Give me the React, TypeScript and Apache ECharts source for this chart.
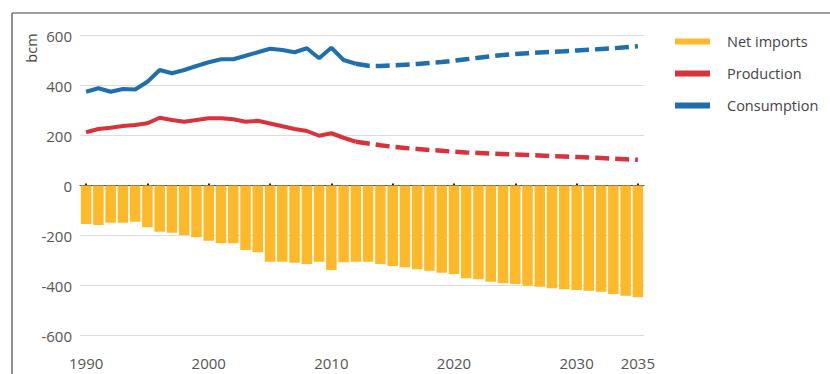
import React, { useEffect, useRef } from "react";
import * as echarts from "echarts";

const years = [
  "1990", "1991", "1992", "1993", "1994", "1995", "1996", "1997", "1998", "1999",
  "2000", "2001", "2002", "2003", "2004", "2005", "2006", "2007", "2008", "2009",
  "2010", "2011", "2012", "2013", "2014", "2015", "2016", "2017", "2018", "2019",
  "2020", "2021", "2022", "2023", "2024", "2025", "2026", "2027", "2028", "2029",
  "2030", "2031", "2032", "2033", "2034", "2035",
];

const labelYears = ["1990", "2000", "2010", "2020", "2030", "2035"];

// 1990-2012 (historical)
const consumptionHist = [
  375, 389, 375, 386, 384, 415, 462, 449, 462, 478, 493, 505, 505, 519, 533, 547,
  542, 533, 549, 509, 551, 502, 487,
];
// 2012-2035 (projection)
const consumptionProj = [
  487, 479, 478, 480, 483, 486, 490, 494, 499, 505, 511, 517, 522, 526, 529, 532,
  535, 537, 540, 543, 546, 549, 553, 557,
];
// 1990-2012
const productionHist = [
  213, 226, 231, 238, 242, 249, 271, 262, 255, 262, 269, 269, 265, 255, 259, 248,
  237, 226, 218, 199, 209, 191, 175,
];
// 2012-2035
const productionProj = [
  175, 168, 161, 155, 150, 146, 142, 139, 135, 132, 130, 128, 126, 124, 122, 120,
  118, 116, 114, 112, 110, 107, 105, 103,
];
// 1990-2035
const netImports = [
  -154, -158, -149, -149, -145, -167, -185, -189, -198, -207, -221, -231, -231, -258,
  -267, -305, -305, -309, -314, -305, -338, -307, -305,
  -305, -314, -322, -327, -335, -341, -349, -354, -371, -375, -385, -391, -394, -401,
  -405, -411, -415, -418, -421, -425, -434, -441, -447,
];

const FONT = "'Open Sans', 'Noto Sans', sans-serif";
const BLUE = "#1f6fae";
const RED = "#d8333b";
const YELLOW = "#fdb92a";

export default function App() {
  const ref = useRef<HTMLDivElement>(null);

  useEffect(() => {
    if (!ref.current) return;
    const chart = echarts.init(ref.current, undefined, { renderer: "svg" });

    const histCount = consumptionHist.length;
    const projStart = years.length - consumptionProj.length;
    const padHist = (arr: number[]) =>
      years.map((_, i) => (i < histCount ? arr[i] : null));
    const padProj = (arr: number[]) =>
      years.map((_, i) => (i >= projStart ? arr[i - projStart] : null));

    chart.setOption({
      animation: false,
      textStyle: { fontFamily: FONT },
      grid: { left: 80, right: 186, top: 35.5, bottom: 38.5, containLabel: false },
      legend: {
        orient: "vertical",
        left: 670,
        top: 29,
        icon: "rect",
        itemWidth: 35,
        itemHeight: 6,
        itemGap: 17,
        data: ["Net imports", "Production", "Consumption"],
        selectedMode: false,
        textStyle: {
          fontFamily: FONT,
          fontSize: 14.5,
          color: "#444",
          lineHeight: 14,
          padding: [0, 0, 0, 12],
        },
      },
      xAxis: [
        {
          type: "category",
          data: years,
          position: "bottom",
          boundaryGap: true,
          axisLine: { show: false, onZero: false },
          axisTick: { show: false },
          splitLine: { show: false },
          axisLabel: {
            interval: (_i: number, v: string) => labelYears.includes(v),
            color: "#555",
            fontSize: 15,
            fontFamily: FONT,
            margin: 20,
          },
        },
        {
          type: "category",
          data: years,
          position: "top",
          boundaryGap: true,
          axisLine: { show: true, onZero: true, lineStyle: { color: "#444", width: 1.2 } },
          axisTick: {
            show: true,
            interval: 4,
            alignWithLabel: true,
            length: 2,
            lineStyle: { color: "#222", width: 2 },
          },
          axisLabel: { show: false },
          splitLine: { show: false },
        },
      ],
      yAxis: {
        type: "value",
        min: -600,
        max: 600,
        interval: 200,
        axisLine: { show: false },
        axisTick: { show: false },
        splitLine: { show: true, lineStyle: { color: "#dcdcdc", width: 1 } },
        axisLabel: { color: "#555", fontSize: 15, fontFamily: FONT, margin: 8 },
      },
      graphic: [
        {
          type: "line",
          shape: { x1: 12, y1: 13, x2: 830, y2: 13 },
          style: { stroke: "#444", lineWidth: 1.2 },
        },
        {
          type: "line",
          shape: { x1: 12, y1: 13, x2: 12, y2: 374 },
          style: { stroke: "#444", lineWidth: 1.2 },
        },
        {
          type: "text",
          x: 31,
          y: 48,
          rotation: Math.PI / 2,
          style: {
            text: "bcm",
            fontSize: 14.5,
            fontFamily: FONT,
            fill: "#444",
            align: "center",
            verticalAlign: "middle",
          },
        },
      ],
      series: [
        {
          name: "Net imports",
          type: "bar",
          data: netImports,
          barCategoryGap: "14%",
          itemStyle: { color: YELLOW },
          z: 1,
        },
        {
          name: "Production",
          type: "line",
          data: padHist(productionHist),
          symbol: "none",
          lineStyle: { color: RED, width: 4 },
          itemStyle: { color: RED },
          z: 3,
        },
        {
          name: "Production",
          type: "line",
          data: padProj(productionProj),
          symbol: "none",
          lineStyle: { color: RED, width: 4.5, type: [14, 6] },
          itemStyle: { color: RED },
          z: 3,
        },
        {
          name: "Consumption",
          type: "line",
          data: padHist(consumptionHist),
          symbol: "none",
          lineStyle: { color: BLUE, width: 4 },
          itemStyle: { color: BLUE },
          z: 3,
        },
        {
          name: "Consumption",
          type: "line",
          data: padProj(consumptionProj),
          symbol: "none",
          lineStyle: { color: BLUE, width: 4.5, type: [14, 6] },
          itemStyle: { color: BLUE },
          z: 3,
        },
      ],
    });

    return () => chart.dispose();
  }, []);

  return (
    <div
      ref={ref}
      style={{ position: "fixed", left: 0, top: 0, width: 830, height: 374, background: "#fff" }}
    />
  );
}
